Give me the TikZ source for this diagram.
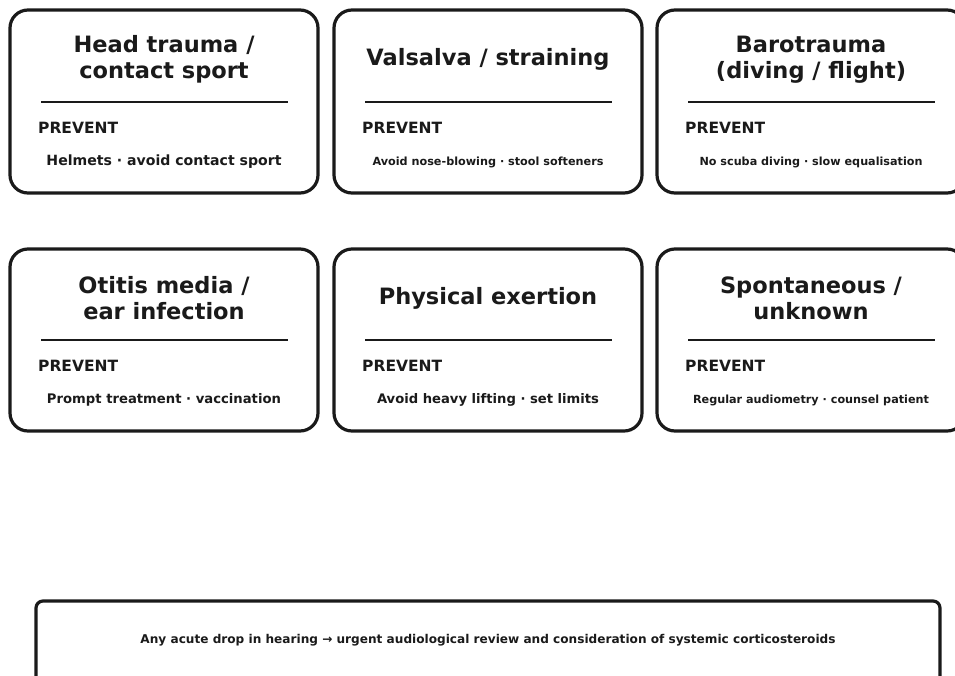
\documentclass[tikz,border=0pt]{standalone}
\usepackage{fontspec}
\setmainfont{DejaVu Sans}
\usepackage{graphicx}
\definecolor{ink}{HTML}{1A1A1A}
\tikzset{
  card/.style={draw=ink, line width=3.2pt, rounded corners=18pt, fill=white},
  sep/.style={draw=ink, line width=1.6pt},
  ttl/.style={text=ink, font=\fontsize{22.5}{26}\selectfont\bfseries, align=center, inner sep=0pt},
  prev/.style={text=ink, font=\fontsize{15.5}{18}\selectfont\bfseries, anchor=west, inner sep=0pt},
  dsc/.style={text=ink, font=\fontsize{14}{16}\selectfont\bfseries, inner sep=0pt},
  note/.style={draw=ink, line width=3.2pt, rounded corners=7pt, fill=white}
}
\newcommand{\fitw}[2]{\resizebox{#1pt}{!}{#2}}
\begin{document}
\begin{tikzpicture}[x=1pt,y=-1pt]
\useasboundingbox (0,0) rectangle (955,675);
% row 1
\draw[card] (10,10) rectangle (318,193);
\node[ttl] (t1) at (164,59.5) {Head trauma /\\contact sport};
\draw[sep] (41,102) -- (288,102);
\node[prev] (p1) at (38,128) {PREVENT};
\node[dsc] (d1) at (164,162) {\fitw{235}{Helmets · avoid contact sport}};

\draw[card] (334,10) rectangle (642,193);
\node[ttl] (t2) at (488,59.5) {Valsalva / straining};
\draw[sep] (365,102) -- (612,102);
\node[prev] (p2) at (362,128) {PREVENT};
\node[dsc] (d2) at (488,162) {\fitw{231}{Avoid nose-blowing · stool softeners}};

\draw[card] (657,10) rectangle (965,193);
\node[ttl] (t3) at (811,59.5) {Barotrauma\\(diving / flight)};
\draw[sep] (688,102) -- (935,102);
\node[prev] (p3) at (685,128) {PREVENT};
\node[dsc] (d3) at (811,162) {\fitw{223}{No scuba diving · slow equalisation}};
% row 2
\draw[card] (10,249) rectangle (318,431);
\node[ttl] (t4) at (164,298.5) {Otitis media /\\ear infection};
\draw[sep] (41,340) -- (288,340);
\node[prev] (p4) at (38,366) {PREVENT};
\node[dsc] (d4) at (164,400) {\fitw{234}{Prompt treatment · vaccination}};

\draw[card] (334,249) rectangle (642,431);
\node[ttl] (t5) at (488,298.5) {Physical exertion};
\draw[sep] (365,340) -- (612,340);
\node[prev] (p5) at (362,366) {PREVENT};
\node[dsc] (d5) at (488,400) {\fitw{222}{Avoid heavy lifting · set limits}};

\draw[card] (657,249) rectangle (965,431);
\node[ttl] (t6) at (811,298.5) {Spontaneous /\\unknown};
\draw[sep] (688,340) -- (935,340);
\node[prev] (p6) at (685,366) {PREVENT};
\node[dsc] (d6) at (811,400) {\fitw{236}{Regular audiometry · counsel patient}};
% bottom note
\draw[note] (36,601) rectangle (940,690);
\node[dsc] (n) at (488,640.5) {\fitw{695}{Any acute drop in hearing → urgent audiological review and consideration of systemic corticosteroids}};
\end{tikzpicture}
\end{document}
